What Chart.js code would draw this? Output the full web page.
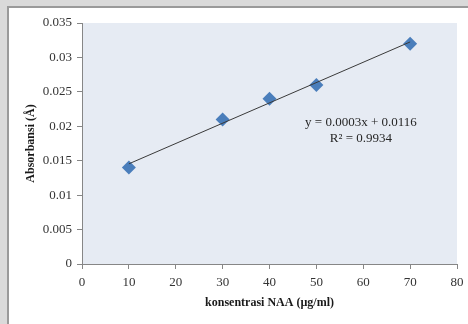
<!DOCTYPE html>
<html>
<head>
<meta charset="utf-8">
<script src="https://cdn.jsdelivr.net/npm/chart.js@4"></script>
<style>
  html, body { margin: 0; padding: 0; }
  body { width: 468px; height: 324px; background: #dadada; position: relative; overflow: hidden; }
  #frame {
    position: absolute; left: 7px; top: 6px; right: 0; bottom: 0;
    background: #ffffff;
    border-left: 2px solid #9a9a9a;
    border-top: 2px solid #9a9a9a;
  }
  #wrap { position: absolute; left: 0; top: 0; width: 468px; height: 324px; }
</style>
</head>
<body>
<div id="frame"></div>
<div id="wrap"><canvas id="chart" width="468" height="324"></canvas></div>
<script>
document.addEventListener("DOMContentLoaded", function () {
    const concentrations = [10, 30, 40, 50, 70];
    const absorbances = [0.014, 0.021, 0.024, 0.026, 0.032];
    const xTickLabels = ["0", "10", "20", "30", "40", "50", "60", "70", "80"];
    const yTickLabels = ["0", "0.005", "0.01", "0.015", "0.02", "0.025", "0.03", "0.035"];
    const equationLines = ["y = 0.0003x + 0.0116", "R\u00b2 = 0.9934"];

    // least squares fit for the trendline
    const n = concentrations.length;
    const mx = concentrations.reduce((a, b) => a + b, 0) / n;
    const my = absorbances.reduce((a, b) => a + b, 0) / n;
    let sxy = 0, sxx = 0;
    for (let i = 0; i < n; i++) {
        sxy += (concentrations[i] - mx) * (absorbances[i] - my);
        sxx += (concentrations[i] - mx) * (concentrations[i] - mx);
    }
    const slope = sxy / sxx;
    const intercept = my - slope * mx;
    const xFirst = concentrations[0];
    const xLast = concentrations[n - 1];

    const serif = "'Liberation Serif', 'Times New Roman', serif";

    const plotBackground = {
        id: "plotBackground",
        beforeDraw(chart) {
            const { ctx, chartArea } = chart;
            ctx.save();
            ctx.fillStyle = "#e6ebf3";
            ctx.fillRect(chartArea.left, chartArea.top, chartArea.right - chartArea.left, chartArea.bottom - chartArea.top);
            ctx.restore();
        },
    };

    const equationText = {
        id: "equationText",
        afterDraw(chart) {
            const { ctx } = chart;
            const xs = chart.scales.x;
            const ys = chart.scales.y;
            const cx = xs.getPixelForValue(59.5);
            const cy = ys.getPixelForValue(0.0206);
            ctx.save();
            ctx.font = "13px " + serif;
            ctx.fillStyle = "#262626";
            ctx.textAlign = "center";
            ctx.textBaseline = "middle";
            equationLines.forEach((line, i) => ctx.fillText(line, cx, cy + i * 16));
            ctx.restore();
        },
    };

    const options = {
        responsive: false,
        animation: false,
        layout: {
            padding: { left: 0, right: 11, top: 23, bottom: 0 },
        },
        plugins: {
            legend: { display: false },
            tooltip: { enabled: false },
        },
        scales: {
            x: {
                type: "linear",
                min: 0,
                max: 80,
                afterFit: (s) => {
                    s.height = 60;
                    s.paddingLeft = 0;
                    s.paddingRight = 0;
                },
                afterBuildTicks: (s) => {
                    s.ticks = xTickLabels.map((t) => ({ value: Number(t) }));
                },
                ticks: {
                    callback: (v, i) => xTickLabels[i],
                    font: { family: serif, size: 13 },
                    color: "#333333",
                    padding: 6,
                    maxRotation: 0,
                },
                grid: {
                    drawOnChartArea: false,
                    tickLength: 5,
                    color: "#868686",
                },
                border: { color: "#868686", width: 1 },
                title: {
                    display: true,
                    text: "konsentrasi NAA (\u00b5g/ml)",
                    font: { family: serif, size: 12, weight: "bold" },
                    color: "#1a1a1a",
                    padding: { top: 0, bottom: 14 },
                },
            },
            y: {
                type: "linear",
                min: 0,
                max: 0.035,
                afterFit: (s) => {
                    s.width = 82;
                    s.paddingTop = 0;
                    s.paddingBottom = 0;
                },
                afterBuildTicks: (s) => {
                    s.ticks = yTickLabels.map((t) => ({ value: Number(t) }));
                },
                ticks: {
                    callback: (v, i) => yTickLabels[i],
                    font: { family: serif, size: 13 },
                    color: "#333333",
                    padding: 5,
                },
                grid: {
                    drawOnChartArea: false,
                    tickLength: 5,
                    color: "#868686",
                },
                border: { color: "#868686", width: 1 },
                title: {
                    display: true,
                    text: "Absorbansi (\u00c5)",
                    font: { family: serif, size: 12, weight: "bold" },
                    color: "#1a1a1a",
                    padding: { top: 24, bottom: 0 },
                },
            },
        },
    };

    new Chart(document.getElementById("chart"), {
        type: "scatter",
        data: {
            datasets: [
                {
                    label: "trend",
                    type: "line",
                    data: [
                        { x: xFirst, y: intercept + slope * xFirst },
                        { x: xLast, y: intercept + slope * xLast },
                    ],
                    borderColor: "#3a3a3a",
                    borderWidth: 1,
                    pointRadius: 0,
                    fill: false,
                    order: 0,
                },
                {
                    label: "Absorbansi",
                    data: concentrations.map((x, i) => ({ x: x, y: absorbances[i] })),
                    pointStyle: "rectRot",
                    pointRadius: 7,
                    backgroundColor: "#4a7ebb",
                    borderColor: "#4a7ebb",
                    borderWidth: 0,
                    order: 1,
                },
            ],
        },
        options: options,
        plugins: [plotBackground, equationText],
    });
});
</script>
</body>
</html>
